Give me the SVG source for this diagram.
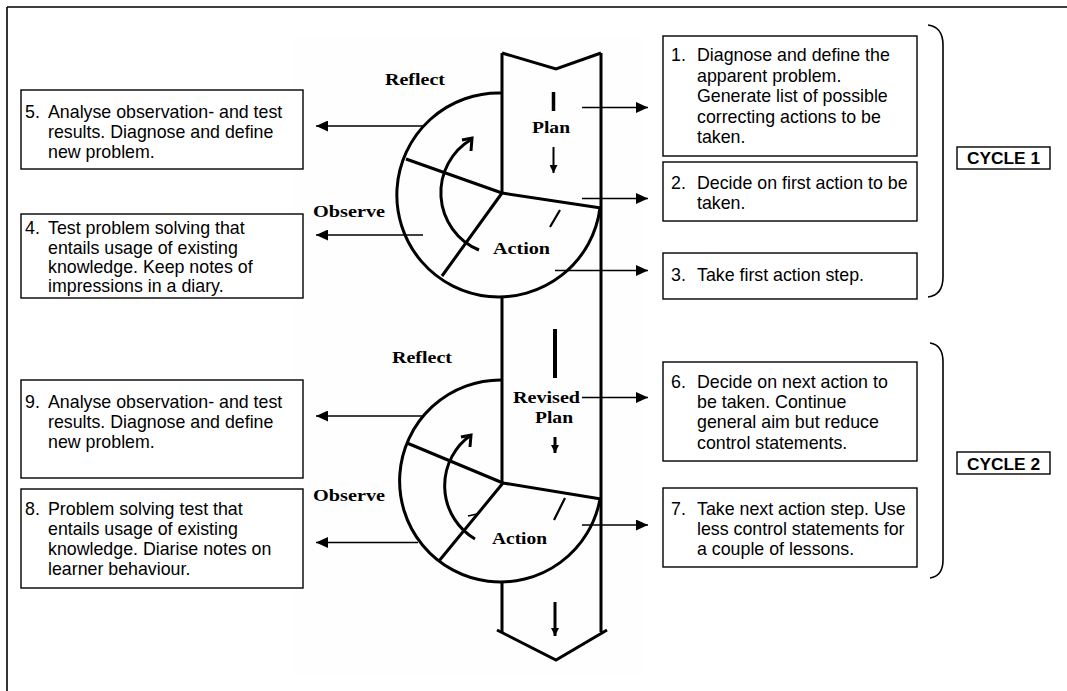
<svg xmlns="http://www.w3.org/2000/svg" width="1067" height="691" viewBox="0 0 1067 691">
<style>
.box{fill:#fff;stroke:#000;stroke-width:1.4}
.bt{font-family:"Liberation Sans",Arial,sans-serif;font-size:17.8px;fill:#000}
.lab{font-family:"Liberation Serif","Times New Roman",serif;font-weight:bold;font-size:17px;fill:#000}
.cyc{font-family:"Liberation Sans",Arial,sans-serif;font-weight:bold;font-size:16px;fill:#000}
.thick{fill:none;stroke:#000;stroke-width:3;stroke-linejoin:miter}
.conn{fill:none;stroke:#000;stroke-width:1.4}
.brk{fill:none;stroke:#000;stroke-width:1.6}
</style>
<defs>
<marker id="ah" markerUnits="userSpaceOnUse" markerWidth="12" markerHeight="11" refX="12" refY="5.5" orient="auto">
<path d="M0,0 L12,5.5 L0,11 z" fill="#000"/>
</marker>
<marker id="dh" markerUnits="userSpaceOnUse" markerWidth="9" markerHeight="8" refX="8" refY="4" orient="auto">
<path d="M0,0 L8,4 L0,8 z" fill="#000"/>
</marker>
</defs>
<rect x="0" y="0" width="1067" height="691" fill="#fff"/>
<path d="M7,7 L1067,7 M7,7 L7,691" fill="none" stroke="#000" stroke-width="1.6"/>
<rect x="292" y="36" width="350" height="640" fill="#fefefe"/>

<g id="cycle-figure">
<path class="thick" d="M502,53 L556,69 L601,53"/>
<path class="thick" d="M601,53 L601,632"/>
<path class="thick" d="M502,53 L502,193"/>
<path class="thick" d="M502,296 L502,483"/>
<path class="thick" d="M502,583 L502,632"/>
<path class="thick" d="M497,630 L556,660 L607,630"/>
<path class="thick" d="M502,93 A102,102 0 1 0 600,208"/>
<path class="thick" d="M502,193 L406,159 M502,193 L442,276 M502,193 L601,208"/>
<path class="thick" d="M479,250 A62,62 0 0 1 472,139"/>
<polyline class="thick" points="462,140 472,138 471,151"/>
<path d="M560,210 L550,227" stroke="#000" stroke-width="2.2"/>
<path class="thick" d="M502,380 A101,101 0 1 0 600,499"/>
<path class="thick" d="M503,483 L407,443 M503,483 L439,561 M503,483 L601,499"/>
<path class="thick" d="M475,539 A62,62 0 0 1 471,435"/>
<polyline class="thick" points="461,437 471,435 470,447"/>
<path d="M565,498 L554,520" stroke="#000" stroke-width="2.2"/>
<path d="M468,516 L477,514" stroke="#000" stroke-width="1.5"/>
<path d="M553.5,92 L553.5,111" stroke="#000" stroke-width="3.5"/>
<path d="M553.5,147 L553.5,173" stroke="#000" stroke-width="2" marker-end="url(#dh)"/>
<path d="M555,329 L555,378" stroke="#000" stroke-width="4"/>
<path d="M555,437 L555,453" stroke="#000" stroke-width="3" marker-end="url(#dh)"/>
<path d="M555,602 L555,636" stroke="#000" stroke-width="3" marker-end="url(#dh)"/>
<text class="lab" x="385" y="85" textLength="60" lengthAdjust="spacingAndGlyphs">Reflect</text>
<text class="lab" x="532" y="133" textLength="38" lengthAdjust="spacingAndGlyphs">Plan</text>
<text class="lab" x="493" y="254" textLength="57" lengthAdjust="spacingAndGlyphs">Action</text>
<text class="lab" x="313" y="217" textLength="72" lengthAdjust="spacingAndGlyphs">Observe</text>
<text class="lab" x="392" y="363" textLength="60" lengthAdjust="spacingAndGlyphs">Reflect</text>
<text class="lab" x="513" y="403" textLength="67" lengthAdjust="spacingAndGlyphs">Revised</text>
<text class="lab" x="535" y="423" textLength="38" lengthAdjust="spacingAndGlyphs">Plan</text>
<text class="lab" x="492" y="544" textLength="55" lengthAdjust="spacingAndGlyphs">Action</text>
<text class="lab" x="313" y="501" textLength="72" lengthAdjust="spacingAndGlyphs">Observe</text>
</g>

<g id="connectors">
<path class="conn" d="M582,107.5 L648,107.5" marker-end="url(#ah)"/>
<path class="conn" d="M582,198.5 L648,198.5" marker-end="url(#ah)"/>
<path class="conn" d="M555,270.5 L648,270.5" marker-end="url(#ah)"/>
<path class="conn" d="M582,397.5 L648,397.5" marker-end="url(#ah)"/>
<path class="conn" d="M582,525 L648,525" marker-end="url(#ah)"/>
<path class="conn" d="M423,126 L316,126" marker-end="url(#ah)"/>
<path class="conn" d="M423,235 L316,235" marker-end="url(#ah)"/>
<path class="conn" d="M423,416 L316,416" marker-end="url(#ah)"/>
<path class="conn" d="M418,542.5 L316,542.5" marker-end="url(#ah)"/>
</g>

<g id="box1">
<rect class="box" x="663" y="36" width="254" height="120"/>
<text class="bt" x="671" y="61">1.</text>
<text class="bt" x="697" y="61">Diagnose and define the</text>
<text class="bt" x="697" y="81.5">apparent problem.</text>
<text class="bt" x="697" y="102">Generate list of possible</text>
<text class="bt" x="697" y="122.5">correcting actions to be</text>
<text class="bt" x="697" y="143">taken.</text>
</g>
<g id="box2">
<rect class="box" x="663" y="162" width="254" height="59"/>
<text class="bt" x="671" y="188.5">2.</text>
<text class="bt" x="697" y="188.5">Decide on first action to be</text>
<text class="bt" x="697" y="208.5">taken.</text>
</g>
<g id="box3">
<rect class="box" x="663" y="253" width="254" height="46"/>
<text class="bt" x="671" y="281">3.</text>
<text class="bt" x="697" y="281">Take first action step.</text>
</g>
<g id="box5">
<rect class="box" x="21" y="90" width="282" height="79"/>
<text class="bt" x="25" y="118">5.</text>
<text class="bt" x="48" y="118">Analyse observation- and test</text>
<text class="bt" x="48" y="138">results. Diagnose and define</text>
<text class="bt" x="48" y="158">new problem.</text>
</g>
<g id="box4">
<rect class="box" x="21" y="214" width="282" height="84"/>
<text class="bt" x="25" y="234">4.</text>
<text class="bt" x="48" y="234">Test problem solving that</text>
<text class="bt" x="48" y="253.5">entails usage of existing</text>
<text class="bt" x="48" y="273">knowledge. Keep notes of</text>
<text class="bt" x="48" y="292">impressions in a diary.</text>
</g>
<g id="box6">
<rect class="box" x="663" y="362" width="254" height="99"/>
<text class="bt" x="671" y="388">6.</text>
<text class="bt" x="697" y="388">Decide on next action to</text>
<text class="bt" x="697" y="408">be taken. Continue</text>
<text class="bt" x="697" y="428">general aim but reduce</text>
<text class="bt" x="697" y="449">control statements.</text>
</g>
<g id="box7">
<rect class="box" x="663" y="488" width="254" height="79"/>
<text class="bt" x="671" y="514.5">7.</text>
<text class="bt" x="697" y="514.5">Take next action step. Use</text>
<text class="bt" x="697" y="534.5">less control statements for</text>
<text class="bt" x="697" y="555">a couple of lessons.</text>
</g>
<g id="box9">
<rect class="box" x="21" y="380" width="282" height="98"/>
<text class="bt" x="25" y="408">9.</text>
<text class="bt" x="48" y="408">Analyse observation- and test</text>
<text class="bt" x="48" y="428">results. Diagnose and define</text>
<text class="bt" x="48" y="448">new problem.</text>
</g>
<g id="box8">
<rect class="box" x="21" y="489" width="282" height="99"/>
<text class="bt" x="25" y="514.5">8.</text>
<text class="bt" x="48" y="514.5">Problem solving test that</text>
<text class="bt" x="48" y="534.5">entails usage of existing</text>
<text class="bt" x="48" y="554.5">knowledge. Diarise notes on</text>
<text class="bt" x="48" y="574.5">learner behaviour.</text>
</g>
<g id="cycle1">
<path class="brk" d="M928,25 Q943,27 943,45 L943,277 Q943,295 928,297"/>
<rect class="box" x="957" y="147" width="93" height="22"/>
<text class="cyc" x="967" y="164" textLength="73" lengthAdjust="spacingAndGlyphs">CYCLE 1</text>
</g>
<g id="cycle2">
<path class="brk" d="M930,343 Q943,345 943,362 L943,560 Q943,576 930,578"/>
<rect class="box" x="957" y="452" width="93" height="22"/>
<text class="cyc" x="967" y="469.5" textLength="73" lengthAdjust="spacingAndGlyphs">CYCLE 2</text>
</g>
</svg>
